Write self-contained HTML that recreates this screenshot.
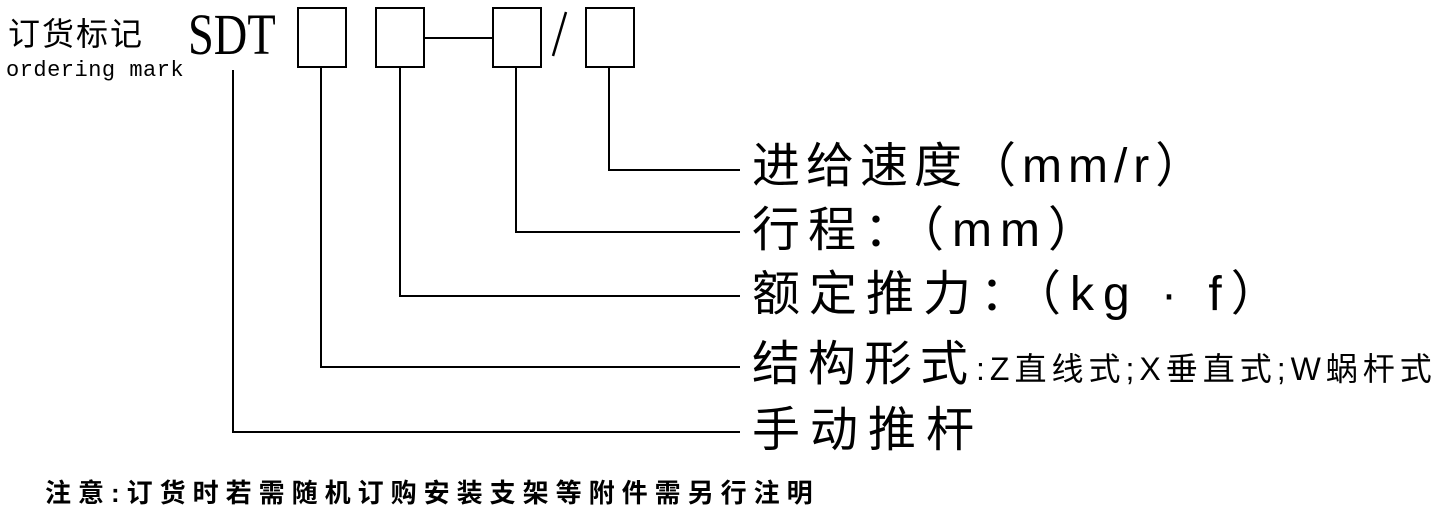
<!DOCTYPE html>
<html><head><meta charset="utf-8"><style>
body{margin:0;width:1450px;height:525px;background:#fff;position:relative;overflow:hidden;font-family:"Liberation Sans","Noto Sans CJK SC",sans-serif;color:#000}
.a{position:absolute;white-space:nowrap;line-height:1}
.l{position:absolute;background:#000}
.b{position:absolute;border:2px solid #000;box-sizing:border-box}
.big{font-size:48px}
</style></head><body>
<div class="a" style="left:8px;top:18px;font-size:32px;letter-spacing:2px">订货标记</div>
<div class="a" style="left:6px;top:60px;font-size:22px;font-family:'Liberation Mono',monospace;letter-spacing:0.5px">ordering mark</div>
<div class="a" style="left:188px;top:6px;font-size:58px;font-family:'Liberation Serif',serif;transform:scaleX(0.8);transform-origin:left">SDT</div>
<div class="b" style="left:297px;top:7px;width:50px;height:61px"></div>
<div class="b" style="left:375px;top:7px;width:50px;height:61px"></div>
<div class="l" style="left:424px;top:37px;width:68px;height:2px"></div>
<div class="b" style="left:492px;top:7px;width:50px;height:61px"></div>
<svg style="position:absolute;left:540px;top:0" width="40" height="70"><line x1="13" y1="56" x2="26" y2="12" stroke="#000" stroke-width="2.5"/></svg>
<div class="b" style="left:585px;top:7px;width:50px;height:61px"></div>

<div class="l" style="left:232px;top:70px;width:2px;height:363px"></div>
<div class="l" style="left:232px;top:431px;width:508px;height:2px"></div>
<div class="l" style="left:320px;top:68px;width:2px;height:300px"></div>
<div class="l" style="left:320px;top:366px;width:420px;height:2px"></div>
<div class="l" style="left:399px;top:68px;width:2px;height:229px"></div>
<div class="l" style="left:399px;top:295px;width:341px;height:2px"></div>
<div class="l" style="left:515px;top:68px;width:2px;height:165px"></div>
<div class="l" style="left:515px;top:231px;width:225px;height:2px"></div>
<div class="l" style="left:608px;top:68px;width:2px;height:103px"></div>
<div class="l" style="left:608px;top:169px;width:132px;height:2px"></div>

<div class="a big" style="left:752px;top:143px;letter-spacing:6px">进给速度（mm/r）</div>
<div class="a big" style="left:752px;top:207px;letter-spacing:8px">行程：（mm）</div>
<div class="a big" style="left:752px;top:271px;letter-spacing:9px">额定推力：（kg · f）</div>
<div class="a big" style="left:752px;top:341px;letter-spacing:8px">结构形式<span style="font-size:32px;letter-spacing:5px">:Z直线式;X垂直式;W蜗杆式</span></div>
<div class="a big" style="left:752px;top:407px;letter-spacing:10px">手动推杆</div>
<div class="a" style="left:45px;top:480px;font-size:26px;font-weight:bold;letter-spacing:7px">注意:订货时若需随机订购安装支架等附件需另行注明</div>
</body></html>
